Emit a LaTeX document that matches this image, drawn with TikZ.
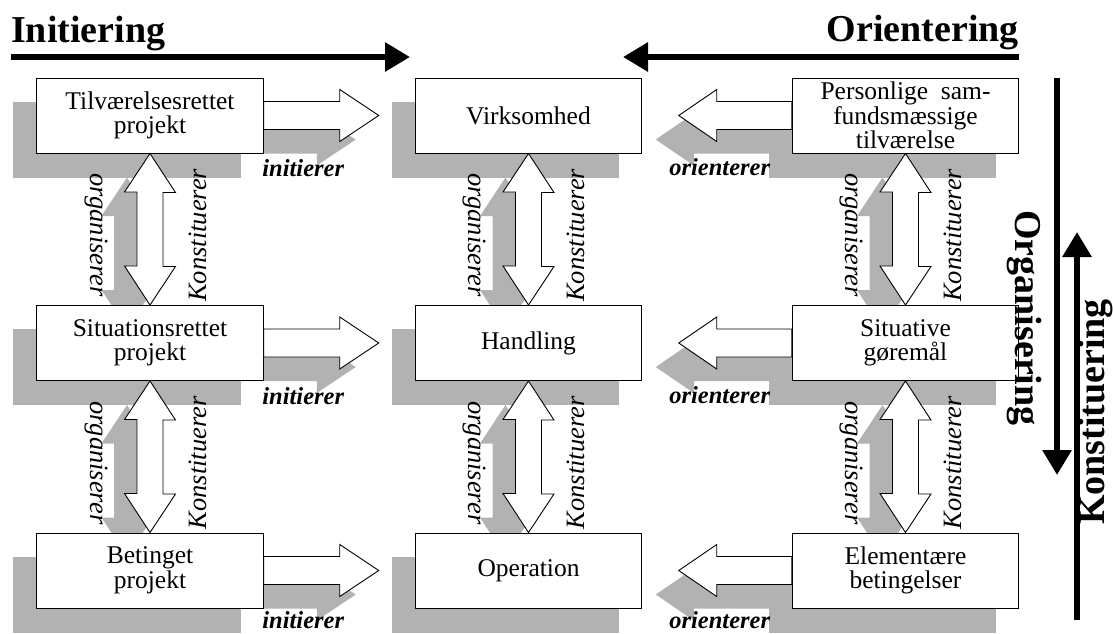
\documentclass[tikz,border=0pt]{standalone}
\usepackage{fontspec}
\setmainfont{Liberation Serif}
\usetikzlibrary{arrows.meta,calc}
\pgfdeclarelayer{bg}
\pgfsetlayers{bg,main}
% fat arrows
\newcommand\rarr[2]{\path[#1] (#2) ++(0,-14) -- ++(76,0) -- ++(0,-12) -- ++(39,26) -- ++(-39,26) -- ++(0,-12) -- ++(-76,0) -- cycle;}
\newcommand\larr[2]{\path[#1] (#2) ++(0,-14) -- ++(-75,0) -- ++(0,-12) -- ++(-38,26) -- ++(38,26) -- ++(0,-12) -- ++(75,0) -- cycle;}
\newcommand\varr[3]{\path[#1] (#2) -- ++(25.5,39) -- ++(-12.5,0) -- ++(0,74) -- ++(12.5,0) -- (#3) -- ++(-25.5,-39) -- ++(12.5,0) -- ++(0,-74) -- ++(-12.5,0) -- cycle;}
\begin{document}
\begin{tikzpicture}[x=1pt,y=-1pt,
  box/.style={draw=black,line width=1pt,fill=white,minimum width=226.5pt,minimum height=75pt,inner sep=0pt,align=center,font=\fontsize{25.5}{24.5}\selectfont},
  shade/.style={fill=black!30,draw=none},
  fat/.style={draw=black,line width=0.9pt,fill=white,line join=miter},
  hlab/.style={font=\fontsize{24.5}{24}\selectfont\bfseries\itshape,anchor=base,inner sep=0pt},
  vlab/.style={font=\fontsize{26.5}{24}\selectfont\itshape,anchor=base,inner sep=0pt},
  titletext/.style={font=\fontsize{38}{40}\selectfont\bfseries,anchor=base,inner sep=0pt},
  bigarrow/.style={line width=6pt,-{Triangle[length=25pt,width=28pt]}}
]
\useasboundingbox (0,0) rectangle (1113,633);

% boxes
\node[box] (b11) at (150,115.5) {Tilværelsesrettet\\projekt};
\node[box] (b12) at (528.5,115.5) {Virksomhed};
\node[box] (b13) at (905.5,115.5) {Personlige\ \ sam-\\fundsmæssige\\tilværelse};
\node[box] (b21) at (150,343) {Situationsrettet\\projekt};
\node[box] (b22) at (528.5,343) {Handling};
\node[box] (b23) at (905.5,343) {Situative\\gøremål};
\node[box] (b31) at (150,570.5) {Betinget\\projekt};
\node[box] (b32) at (528.5,570.5) {Operation};
\node[box] (b33) at (905.5,570.5) {Elementære\\betingelser};

% shadows
\begin{pgfonlayer}{bg}
\foreach \n in {b11,b12,b13,b21,b22,b23,b31,b32,b33}
  \fill[shade] ([shift={(-23,24)}]\n.north west) rectangle ([shift={(-23,24)}]\n.south east);
\foreach \n in {b11,b21,b31} {\rarr{shade}{[shift={(-23,24)}]\n.east}}
\foreach \n in {b13,b23,b33} {\larr{shade}{[shift={(-23,24)}]\n.west}}
\foreach \a/\b in {b11/b21,b21/b31,b12/b22,b22/b32,b13/b23,b23/b33}
  {\varr{shade}{[shift={(-23,24)}]\a.south}{[shift={(-23,24)}]\b.north}}
\end{pgfonlayer}

% white fat arrows
\foreach \n in {b11,b21,b31} {\rarr{fat}{\n.east}}
\foreach \n in {b13,b23,b33} {\larr{fat}{\n.west}}
\foreach \a/\b in {b11/b21,b21/b31,b12/b22,b22/b32,b13/b23,b23/b33}
  {\varr{fat}{\a.south}{\b.north}}

% horizontal labels
\node[hlab] (i1) at ($(b11.east)+(39.5,61)$) {initierer};
\node[hlab] (i2) at ($(b21.east)+(39.5,61)$) {initierer};
\node[hlab] (i3) at ($(b31.east)+(39.5,58)$) {initierer};
\node[hlab] (o1) at ($(b13.west)+(-72,60)$) {orienterer};
\node[hlab] (o2) at ($(b23.west)+(-72,60)$) {orienterer};
\node[hlab] (o3) at ($(b33.west)+(-72,58)$) {orienterer};

% vertical labels
\foreach \a/\b/\k in {b11/b21/1,b21/b31/2,b12/b22/3,b22/b32/4,b13/b23/5,b23/b33/6} {
  \node[vlab,rotate=-90] (org\k) at ($(\a.south)!0.5!(\b.north)+(-60,6)$) {organiserer};
  \node[vlab,rotate=90] (kon\k) at ($(\a.south)!0.5!(\b.north)+(56,6)$) {Konstituerer};
}

% titles and big arrows
\node[titletext,anchor=base west] (tI) at (11,42) {Initiering};
\node[titletext,anchor=base east] (tO) at (1019,41) {Orientering};
\node[titletext,rotate=-90] (tG) at (1015,318) {Organisering};
\node[titletext,rotate=90] (tK) at (1104,412) {Konstituering};
\coordinate (ia) at (11,57);   \coordinate (ib) at (410,57);
\coordinate (oa) at (1019,57); \coordinate (ob) at (623,57);
\coordinate (ga) at (1057,78); \coordinate (gb) at (1057,475);
\coordinate (ka) at (1077,620); \coordinate (kb) at (1077,232);
\draw[bigarrow] (ia) -- (ib);
\draw[bigarrow] (oa) -- (ob);
\draw[bigarrow] (ga) -- (gb);
\draw[bigarrow] (ka) -- (kb);
\end{tikzpicture}
\end{document}
